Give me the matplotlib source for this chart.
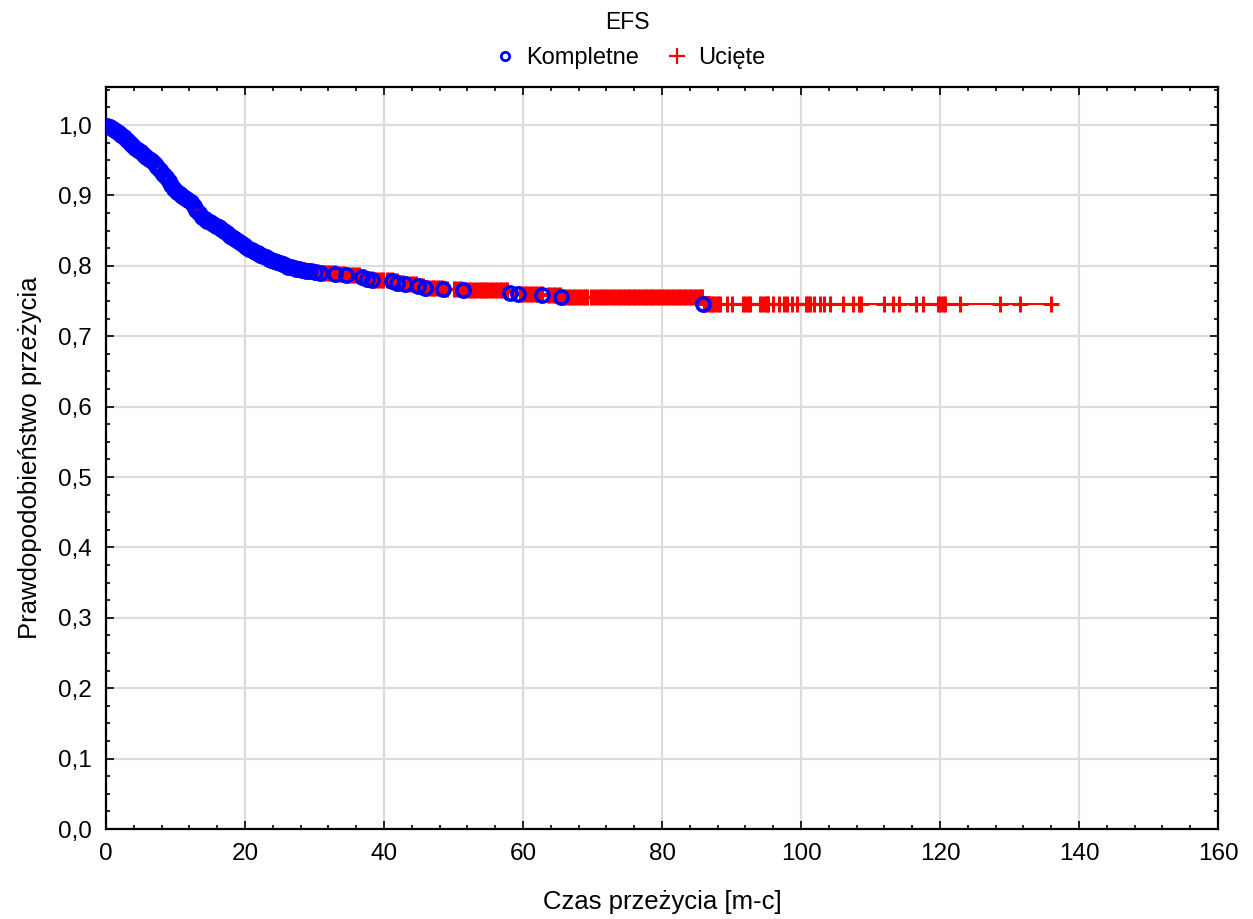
import numpy as np
import matplotlib.pyplot as plt
from matplotlib.ticker import MultipleLocator, FuncFormatter

plt.rcParams['font.family'] = ['Liberation Sans', 'DejaVu Sans']

# Complete observations (events): time [months] and survival after the event
event_times = [0.2, 0.6, 1.0, 1.4, 1.8, 2.2, 2.6, 3.0, 3.4, 3.8, 4.2, 4.6, 5.0, 5.4, 5.8,
               6.2, 6.6, 7.0, 7.4, 7.8, 8.2, 8.6, 9.0, 9.4, 9.8, 10.2, 10.6, 11.0, 11.4,
               11.8, 12.2, 12.6, 13.0, 13.4, 13.8, 14.2, 14.6, 15.0, 15.4, 15.8, 16.2,
               16.6, 17.0, 17.4, 17.8, 18.2, 18.6, 19.0, 19.4, 19.8, 20.2, 20.6, 21.0,
               21.4, 21.8, 22.2, 22.6, 23.0, 23.4, 23.8, 24.2, 24.6, 25.0, 25.4, 25.8,
               26.2, 26.6, 27.0, 27.4, 27.8, 28.2, 28.8, 29.4, 30.0, 30.8,
               33.0, 34.5, 36.8, 37.5, 38.3, 41.2, 41.9, 43.0, 44.9, 45.9, 48.5, 51.4,
               58.1, 59.3, 62.8, 65.4, 85.9]
event_surv = [0.998, 0.997, 0.995, 0.992, 0.989, 0.986, 0.983, 0.979, 0.975, 0.971,
              0.967, 0.964, 0.961, 0.958, 0.955, 0.952, 0.949, 0.945, 0.941, 0.936,
              0.931, 0.926, 0.921, 0.915, 0.909, 0.905, 0.902, 0.899, 0.896, 0.893,
              0.890, 0.885, 0.880, 0.875, 0.870, 0.867, 0.864, 0.862, 0.860, 0.857,
              0.855, 0.852, 0.849, 0.846, 0.843, 0.841, 0.838, 0.835, 0.832, 0.829,
              0.827, 0.824, 0.822, 0.820, 0.818, 0.816, 0.814, 0.812, 0.810, 0.809,
              0.807, 0.805, 0.804, 0.802, 0.801, 0.799, 0.798, 0.797, 0.796, 0.795,
              0.794, 0.793, 0.792, 0.791, 0.790,
              0.788, 0.787, 0.784, 0.782, 0.780, 0.778, 0.776, 0.774, 0.771, 0.769,
              0.767, 0.765, 0.762, 0.760, 0.758, 0.756, 0.746]

# Censored observations (time [months])
censor_times = [0.3, 1.6, 4.4, 8.1, 13.1, 16.3, 18.0, 20.5, 22.8, 24.3, 25.6, 26.5, 27.3, 27.9,
                28.4, 28.7, 29.1, 29.4, 29.8, 30.1, 30.5, 30.9, 31.2, 31.5, 31.9, 32.2, 32.6,
                32.9, 33.3, 33.6, 34.0, 34.3, 34.7, 35.0, 35.4, 35.7, 36.1, 36.4, 36.9, 37.1,
                37.6, 37.8, 38.2, 38.5, 38.9, 39.2, 39.5, 39.8,
                40.4, 40.7, 41.1, 41.4, 41.8, 42.1, 42.5, 42.8, 43.2, 43.5, 43.9, 44.2, 44.6,
                45.0, 45.3, 45.6, 46.0, 46.3, 46.7, 47.0, 47.4, 47.7, 48.1, 48.4, 48.8, 49.1,
                50.1, 50.4, 50.8, 51.1, 51.5, 51.8, 52.2, 52.5, 52.9, 53.2, 53.6, 53.9, 54.2,
                54.5, 54.8, 55.2, 55.5, 55.9, 56.3, 56.7, 57.0, 57.4, 57.7,
                59.6, 59.9, 60.3, 60.6, 61.0, 61.3, 61.7, 62.0, 62.4, 62.7,
                63.6, 63.9, 64.3, 64.6, 65.0, 65.3,
                65.8, 66.1, 66.5, 66.8, 67.2, 67.5, 67.9, 68.2, 68.6, 68.9, 69.2,
                69.8, 70.2, 70.6, 71.1, 71.4, 71.8, 72.1, 72.5, 72.9, 73.2, 73.7, 74.0, 74.4, 74.7,
                75.1, 75.4, 75.8, 76.1, 76.5, 76.8, 77.2, 77.5, 77.9, 78.2, 78.6, 78.9, 79.3,
                79.6, 80.0, 80.3, 80.7, 81.0, 81.4, 81.7, 82.1, 82.4, 82.8, 83.1, 83.4,
                83.9, 84.2, 84.6, 84.9, 85.3, 85.6, 85.8,
                86.0, 86.3, 86.7, 87.0, 87.4, 87.7, 88.0, 88.3,
                89.3, 90.0, 91.7, 92.0, 92.4, 92.7, 94.1, 94.4, 94.8, 95.1, 95.3, 96.0, 96.8,
                97.5, 98.0, 98.7, 99.4, 100.7, 101.0, 101.3, 101.8, 102.7, 103.3, 104.2,
                106.0, 107.5, 108.4, 108.7, 111.9, 113.3, 114.1, 116.5, 117.6, 119.7, 120.0,
                120.4, 120.7, 122.9, 128.6, 131.5, 136.0]

ev_t = np.array(event_times)
ev_s = np.array(event_surv)
ce_t = np.array(censor_times)

# survival at censoring times = last event survival before that time
idx = np.searchsorted(ev_t, ce_t, side='right') - 1
ce_s = np.where(idx >= 0, ev_s[np.clip(idx, 0, None)], 1.0)

# step curve
step_t = np.concatenate([[0.0], ev_t, [ce_t.max()]])
step_s = np.concatenate([[1.0], ev_s, [ev_s[-1]]])

fig = plt.figure(figsize=(12.53, 9.19), dpi=100)
ax = fig.add_axes([0.0846, 0.0979, 0.8875, 0.8074])

ax.step(step_t, step_s, where='post', color='red', lw=1.5, zorder=2)
ax.plot(ce_t, ce_s, ls='none', marker='+', ms=11, mew=2.2, color='red', zorder=3)
ax.plot(ev_t, ev_s, ls='none', marker='o', ms=9.5, mew=2.6, mfc='none', mec='blue', zorder=4)

ax.set_xlim(0, 160)
ax.set_ylim(0, 1.054)
ax.xaxis.set_major_locator(MultipleLocator(20))
ax.xaxis.set_minor_locator(MultipleLocator(4))
ax.yaxis.set_major_locator(MultipleLocator(0.1))
ax.yaxis.set_minor_locator(MultipleLocator(0.025))
ax.yaxis.set_major_formatter(FuncFormatter(lambda v, p: f"{v:.1f}".replace('.', ',')))
ax.tick_params(which='both', direction='in', top=True, right=True, labelsize=17.5,
               colors='black', width=1.2)
ax.tick_params(which='major', length=6, pad=10)
ax.tick_params(which='minor', length=3)
ax.grid(True, which='major', color='#dcdcdc', lw=1.6, zorder=0)
ax.set_axisbelow(True)
for sp in ax.spines.values():
    sp.set_linewidth(1.6)

ax.set_xlabel('Czas przeżycia [m-c]', fontsize=18.5, labelpad=18)
ax.set_ylabel('Prawdopodobieństwo przeżycia', fontsize=18.5, labelpad=12)

fig.text(0.501, 0.975, 'EFS', ha='center', va='center', fontsize=16.5)
h1, = ax.plot([], [], ls='none', marker='o', ms=6, mew=2.0, mfc='none', mec='blue')
h2, = ax.plot([], [], ls='none', marker='+', ms=11, mew=1.6, color='red')
fig.legend([h1, h2], ['Kompletne', 'Ucięte'], loc='center', bbox_to_anchor=(0.501, 0.937),
           ncol=2, frameon=False, fontsize=17, handletextpad=0.3, columnspacing=1.0,
           handlelength=1.2)

fig.savefig('out.png', dpi=100)
